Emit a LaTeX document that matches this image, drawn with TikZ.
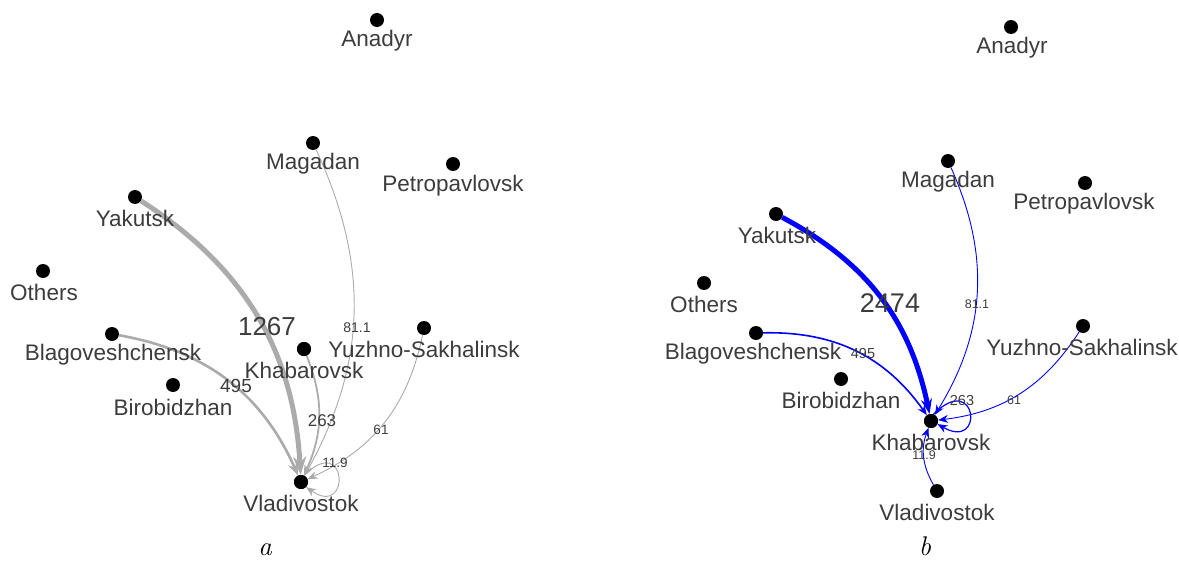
\documentclass[tikz,border=0pt]{standalone}
\usepackage{fontspec}
\newfontfamily\arialf{Liberation Sans}
\usetikzlibrary{arrows.meta}
\definecolor{txtgray}{HTML}{3C3C3C}
\definecolor{edgegray}{HTML}{ABABAB}
\definecolor{edgeblue}{HTML}{0000FF}
\begin{document}
\begin{tikzpicture}[x=1pt,y=-1pt,
  dot/.style={circle,fill=black,inner sep=0pt,minimum size=14pt},
  city/.style={font=\arialf\fontsize{22.5}{24}\selectfont,text=txtgray,inner sep=0pt},
  elab/.style={font=\arialf\fontsize{#1}{#1}\selectfont,text=txtgray,inner sep=0pt},
  capt/.style={font=\fontsize{27}{28}\selectfont\itshape,inner sep=0pt,anchor=base},
  gE/.style={draw=edgegray},
  bE/.style={draw=edgeblue},
  bigtip/.style={-{Stealth[length=18pt,width=13pt]}},
  midtip/.style={-{Stealth[length=13pt,width=10pt]}},
  smalltip/.style={-{Stealth[length=10pt,width=8pt]}}
]
\useasboundingbox (0,0) rectangle (1179,562);

% ---------------- panel a ----------------
\node[dot] (LAna) at (377,20) {};
\node[dot] (LMag) at (313,143) {};
\node[dot] (LPet) at (453,164) {};
\node[dot] (LYak) at (135,197) {};
\node[dot] (LOth) at (43,271) {};
\node[dot] (LBla) at (112,334) {};
\node[dot] (LKha) at (304,349) {};
\node[dot] (LYuz) at (424,328) {};
\node[dot] (LBir) at (173,385) {};
\node[dot] (LVla) at (301,482) {};

\draw[gE,line width=5pt,bigtip] (LYak) to[bend left=27] (LVla);
\draw[gE,line width=2.6pt,midtip] (LBla) to[bend left=28] (LVla);
\draw[gE,line width=1.8pt,smalltip] (LKha) to[bend left=23] (LVla);
\draw[gE,line width=0.9pt,smalltip] (LMag) to[bend left=27] (LVla);
\draw[gE,line width=0.9pt,smalltip] (LYuz) to[bend left=27] (LVla);
\draw[gE,line width=0.9pt,smalltip] (LVla.65) .. controls +(45:62pt) and +(-35:55pt) .. (LVla.-45);

\node[dot] at (LKha) {};
\node[dot] at (LVla) {};

\node[city] (tLAna) at (377,41) {Anadyr};
\node[city] (tLMag) at (313,164) {Magadan};
\node[city] (tLPet) at (453,186) {Petropavlovsk};
\node[city] (tLYak) at (135,218) {Yakutsk};
\node[city] (tLOth) at (44,292) {Others};
\node[city] (tLBla) at (113,355) {Blagoveshchensk};
\node[city] (tLKha) at (304,370) {Khabarovsk};
\node[city] (tLYuz) at (424,349) {Yuzhno-Sakhalinsk};
\node[city] (tLBir) at (173,407) {Birobidzhan};
\node[city] (tLVla) at (301,503) {Vladivostok};

\node[elab=26] (eL1) at (267,327) {1267};
\node[elab=14] (eL2) at (357,328) {81.1};
\node[elab=19] (eL3) at (236,386) {495};
\node[elab=17] (eL4) at (322,421) {263};
\node[elab=13.5] (eL5) at (381,430) {61};
\node[elab=13.5] (eL6) at (335,463) {11.9};

\node[capt] (ca) at (265,555) {a};

% ---------------- panel b ----------------
\node[dot] (RAna) at (1011,27) {};
\node[dot] (RMag) at (948,161) {};
\node[dot] (RPet) at (1085,183) {};
\node[dot] (RYak) at (776,214) {};
\node[dot] (ROth) at (704,283) {};
\node[dot] (RBla) at (756,333) {};
\node[dot] (RYuz) at (1083,326) {};
\node[dot] (RBir) at (841,379) {};
\node[dot] (RKha) at (931,421) {};
\node[dot] (RVla) at (937,491) {};

\draw[bE,line width=5pt,-{Stealth[length=15pt,width=11pt]}] (RYak) to[bend left=25] (RKha);
\draw[bE,line width=1.6pt,smalltip] (RBla) to[bend left=28] (RKha);
\draw[bE,line width=0.9pt,smalltip] (RMag) to[bend left=28] (RKha);
\draw[bE,line width=0.9pt,smalltip] (RYuz) to[bend left=25] (RKha);
\draw[bE,line width=0.9pt,smalltip] (RVla) to[bend left=25] (RKha);
\draw[bE,line width=1.2pt,smalltip] (RKha.70) .. controls +(45:62pt) and +(-30:55pt) .. (RKha.-25);

\node[dot] at (RKha) {};

\node[city] (tRAna) at (1012,48) {Anadyr};
\node[city] (tRMag) at (948,182) {Magadan};
\node[city] (tRPet) at (1084,204) {Petropavlovsk};
\node[city] (tRYak) at (777,235) {Yakutsk};
\node[city] (tROth) at (704,304) {Others};
\node[city] (tRBla) at (753,354) {Blagoveshchensk};
\node[city] (tRYuz) at (1082,347) {Yuzhno-Sakhalinsk};
\node[city] (tRBir) at (841,400) {Birobidzhan};
\node[city] (tRKha) at (931,442) {Khabarovsk};
\node[city] (tRVla) at (937,512) {Vladivostok};

\node[elab=27] (eR1) at (890,303) {2474};
\node[elab=12.5] (eR2) at (977,304) {81.1};
\node[elab=14.5] (eR3) at (863,354) {495};
\node[elab=14.5] (eR4) at (962,401) {263};
\node[elab=12.5] (eR5) at (1014,400) {61};
\node[elab=12.5] (eR6) at (924,455) {11.9};

\node[capt] (cb) at (925,555) {b};
\end{tikzpicture}
\end{document}
